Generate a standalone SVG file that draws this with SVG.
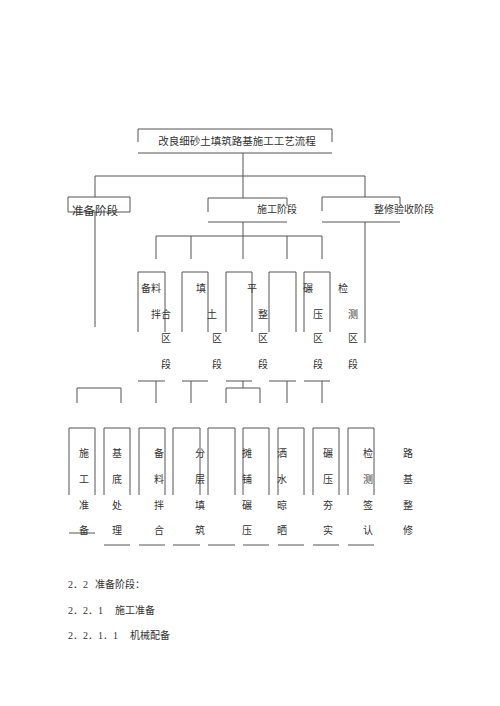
<svg xmlns="http://www.w3.org/2000/svg" width="500" height="706" viewBox="0 0 500 706">
<style>
.ln{fill:none;stroke:#555;stroke-width:1}
text{font-family:"Liberation Serif","Noto Sans CJK SC",serif;font-size:10px;fill:#333}
.c{text-anchor:middle}
</style>
<rect width="500" height="706" fill="#fff"/>
<g id="connectors" class="ln">
<path d="M243,153V176M95,176H365M95,176V197M243,176V198M365,176V197"/>
<path d="M95,212V327M365,222V343M243,222V259M156,236H322M156,236V259M191,236V259M287,236V259M322,236V259"/>
<path d="M138,381H165M182,381H208M226,381H252M269,381H296M304,381H330"/>
<path d="M156,381V403M191,381V403M243,381V388M226,403V388H260V403M287,381V403M322,381V403M77,403V388H121V403"/>
</g>
<g id="title">
<path class="ln" d="M138,142V129H332V142M138,153H332"/>
<text x="237" y="145" class="c" style="font-size:10.5px">改良细砂土填筑路基施工工艺流程</text>
</g>
<g id="stage1">
<path class="ln" d="M68,212V197H130V212M68,212H130"/>
<text x="72" y="215" style="font-size:11.5px">准备阶段</text>
</g>
<g id="stage2">
<path class="ln" d="M208,212V198H287V206M208,222H287"/>
<text x="257" y="213">施工阶段</text>
</g>
<g id="stage3">
<path class="ln" d="M322,211V197H400V204M322,222H400"/>
<text x="374" y="213">整修验收阶段</text>
</g>
<g id="s1"><path class="ln" d="M138,332V272H165V332"/>
<text x="151" y="292" class="c">备料</text><text x="161" y="318" class="c">拌合</text><text x="166" y="342" class="c">区</text><text x="166" y="368" class="c">段</text></g>
<g id="s2"><path class="ln" d="M182,332V272H208V332"/>
<text x="201" y="292" class="c">填</text><text x="212" y="318" class="c">土</text><text x="217" y="342" class="c">区</text><text x="217" y="368" class="c">段</text></g>
<g id="s3"><path class="ln" d="M226,332V272H252V332"/>
<text x="252" y="292" class="c">平</text><text x="263" y="318" class="c">整</text><text x="263" y="342" class="c">区</text><text x="263" y="368" class="c">段</text></g>
<g id="s4"><path class="ln" d="M269,332V272H296V332"/>
<text x="308" y="292" class="c">碾</text><text x="318" y="318" class="c">压</text><text x="318" y="342" class="c">区</text><text x="318" y="368" class="c">段</text></g>
<g id="s5"><path class="ln" d="M304,332V272H330V332"/>
<text x="343" y="292" class="c">检</text><text x="353" y="318" class="c">测</text><text x="353" y="342" class="c">区</text><text x="353" y="368" class="c">段</text></g>
<g id="t1"><path class="ln" d="M69,495V428H95V495M69,533H95"/>
<text x="84" y="457" class="c">施</text><text x="84" y="483" class="c">工</text><text x="84" y="509" class="c">准</text><text x="84" y="534" class="c">备</text></g>
<g id="t2"><path class="ln" d="M104,495V428H130V495M104,545H130"/>
<text x="117" y="457" class="c">基</text><text x="117" y="483" class="c">底</text><text x="117" y="509" class="c">处</text><text x="117" y="534" class="c">理</text></g>
<g id="t3"><path class="ln" d="M139,495V428H165V495M139,545H165"/>
<text x="159" y="457" class="c">备</text><text x="159" y="483" class="c">料</text><text x="159" y="509" class="c">拌</text><text x="159" y="534" class="c">合</text></g>
<g id="t4"><path class="ln" d="M173,495V428H200V495M173,545H200"/>
<text x="200" y="457" class="c">分</text><text x="200" y="483" class="c">层</text><text x="200" y="509" class="c">填</text><text x="200" y="534" class="c">筑</text></g>
<g id="t5"><path class="ln" d="M208,495V428H235V495M208,545H235"/></g>
<g id="t6"><path class="ln" d="M243,495V428H269V495M243,545H269"/>
<text x="247" y="457" class="c">摊</text><text x="247" y="483" class="c">铺</text><text x="247" y="509" class="c">碾</text><text x="247" y="534" class="c">压</text></g>
<g id="t7"><path class="ln" d="M278,495V428H304V495M278,545H304"/>
<text x="282" y="457" class="c">洒</text><text x="282" y="483" class="c">水</text><text x="282" y="509" class="c">晾</text><text x="282" y="534" class="c">晒</text></g>
<g id="t8"><path class="ln" d="M313,495V428H339V495M313,545H339"/>
<text x="328" y="457" class="c">碾</text><text x="328" y="483" class="c">压</text><text x="328" y="509" class="c">夯</text><text x="328" y="534" class="c">实</text></g>
<g id="t9"><path class="ln" d="M348,495V428H374V495M348,545H374"/>
<text x="368" y="457" class="c">检</text><text x="368" y="483" class="c">测</text><text x="368" y="509" class="c">签</text><text x="368" y="534" class="c">认</text></g>
<g id="t10">
<text x="408" y="457" class="c">路</text><text x="408" y="483" class="c">基</text><text x="408" y="509" class="c">整</text><text x="408" y="534" class="c">修</text></g>
<g id="notes">
<text x="68" y="588">2．2 <tspan x="95">准备阶段：</tspan></text>
<text x="68" y="614">2．2．1<tspan x="115">施工准备</tspan></text>
<text x="68" y="639">2．2．1．1<tspan x="130">机械配备</tspan></text>
</g>
</svg>
